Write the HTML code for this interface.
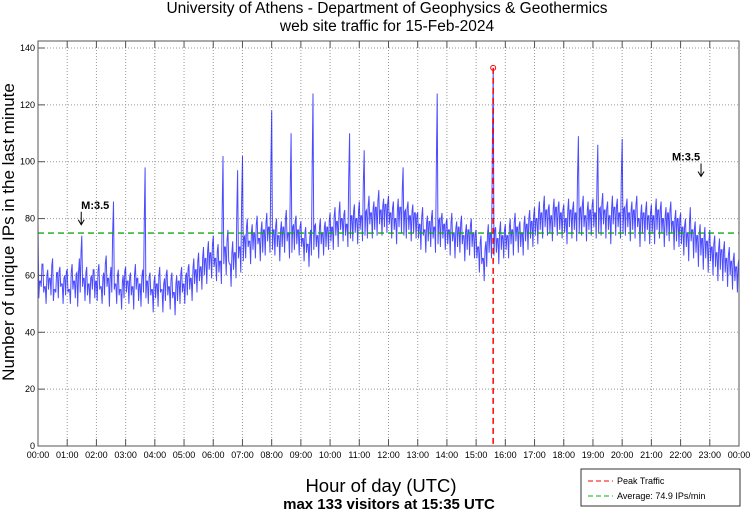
<!DOCTYPE html>
<html><head><meta charset="utf-8"><style>
body{margin:0;background:#fff;}
svg text{font-family:"Liberation Sans",sans-serif;}
</style></head><body>
<svg width="750" height="511" xmlns="http://www.w3.org/2000/svg" id="chart">
<text x="387" y="13" font-size="15.5" text-anchor="middle">University of Athens - Department of Geophysics &amp; Geothermics</text>
<text x="387" y="31" font-size="15.5" text-anchor="middle">web site traffic for 15-Feb-2024</text>
<text transform="translate(14,232) rotate(-90)" font-size="17" text-anchor="middle">Number of unique IPs in the last minute</text>
<text x="381" y="492" font-size="18.5" text-anchor="middle">Hour of day (UTC)</text>
<text x="389" y="509" font-size="15" font-weight="bold" text-anchor="middle">max 133 visitors at 15:35 UTC</text>
<g id="grid"></g>
<g id="series"></g>
<rect x="38" y="41" width="701" height="405" fill="none" stroke="#555" stroke-width="1"/>
<g id="axes"></g>
<g>
<rect x="581" y="469" width="159" height="37" fill="#fff" stroke="#333"/>
<line x1="588" y1="481" x2="613" y2="481" stroke="#f00" stroke-dasharray="5,3"/>
<text x="617" y="484" font-size="9">Peak Traffic</text>
<line x1="588" y1="496" x2="613" y2="496" stroke="#1a1" stroke-dasharray="5,3"/>
<text x="617" y="499" font-size="9">Average: 74.9 IPs/min</text>
</g>
</svg>
<script>
const hourLabels=["00:00","01:00","02:00","03:00","04:00","05:00","06:00","07:00","08:00","09:00","10:00","11:00","12:00","13:00","14:00","15:00","16:00","17:00","18:00","19:00","20:00","21:00","22:00","23:00","00:00"];
const yTicks=[0,20,40,60,80,100,120,140];
const visitors=[
78,58,64,56,62,59,66,55,61,63,57,60,
62,55,64,58,61,66,74,59,63,57,60,62,
58,64,56,61,67,59,63,86,57,62,55,60,
63,58,61,56,64,59,57,62,98,58,61,55,
60,57,63,55,59,62,56,61,54,60,58,63,
57,61,64,59,66,62,68,63,70,66,72,68,
74,66,71,65,102,70,76,64,72,68,97,70,
102,74,80,72,78,75,81,73,79,76,82,77,
118,76,80,74,79,77,83,75,110,78,81,76,
79,73,77,71,76,124,78,74,80,75,79,77,
82,77,84,79,86,80,83,78,110,81,85,80,
86,81,104,83,88,82,86,84,90,83,87,85,
88,82,86,80,87,84,98,83,86,81,85,82,
82,78,84,76,81,79,83,77,124,80,82,78,
80,76,82,75,79,77,81,74,78,76,80,75,
76,70,74,66,72,78,75,133,77,73,79,74,
78,74,80,76,82,77,79,75,81,78,83,79,
84,80,86,82,88,83,85,81,87,84,86,82,
85,80,87,83,86,82,109,84,88,81,86,83,
87,82,106,84,89,83,86,81,88,84,87,82,
108,84,87,82,86,83,88,80,85,82,86,81,
85,81,87,83,86,80,84,82,86,79,83,80,
82,77,80,75,84,76,79,74,78,73,77,72,
76,70,74,68,73,69,72,66,70,65,68,63,
66];
const visitorsLow=[
52,56,54,50,55,53,51,54,52,56,50,53,
54,50,55,52,49,54,56,51,53,50,55,52,
51,55,50,53,56,49,54,55,50,53,48,52,
54,50,53,48,55,51,49,54,52,50,53,47,
52,49,54,47,51,53,48,52,46,51,50,54,
50,53,55,51,57,54,58,55,60,57,62,59,
63,58,61,57,64,60,65,56,62,59,66,61,
65,66,70,64,69,66,71,65,68,67,72,68,
69,67,70,65,70,68,72,66,68,69,71,67,
70,65,68,63,67,69,70,66,71,67,70,69,
72,69,74,70,76,72,74,70,73,72,75,71,
76,72,74,73,78,73,76,74,78,74,77,75,
78,73,76,71,77,75,74,73,76,72,75,73,
73,69,74,68,72,70,73,68,71,70,73,69,
71,67,72,66,70,68,71,65,69,67,70,66,
66,61,64,58,63,68,66,67,68,64,69,66,
69,66,71,67,72,68,70,67,72,69,73,70,
74,71,76,73,77,74,75,72,77,74,76,73,
75,71,77,73,76,72,75,74,77,72,76,74,
77,73,75,74,78,73,76,71,78,74,77,73,
75,74,77,72,76,73,77,70,75,72,76,71,
75,71,76,73,75,70,74,72,75,69,72,70,
71,67,70,65,72,66,68,63,67,62,66,61,
65,60,63,58,62,58,61,56,60,55,58,54];
const averageValue=74.9;
const peakValue=133;
const peakHour=15+35/60;
const quakeHours=[1.48,22.7];
const quakeLevels=[75,92];
const quakeLabels=["M:3.5","M:3.5"];
const quakeLabelShift=[14,-15];

const NS="http://www.w3.org/2000/svg";
const X0=38,X1=739,Y0=446,YT=48;
const xs=h=>X0+(X1-X0)*h/24;
const ys=v=>Y0-(Y0-YT)*v/140;
function mk(tag,attrs,parent){const e=document.createElementNS(NS,tag);for(const k in attrs)e.setAttribute(k,attrs[k]);parent.appendChild(e);return e;}
const grid=document.getElementById('grid'),axes=document.getElementById('axes'),series=document.getElementById('series');
hourLabels.forEach((l,i)=>{
  const x=xs(i);
  if(i>0&&i<24){const g=mk('line',{x1:x,x2:x,y1:41,y2:Y0,stroke:'#999','stroke-dasharray':'1,2'},grid);
  
  }
  const t=mk('line',{x1:x,x2:x,y1:Y0,y2:Y0-7,stroke:'#555'},axes);
  
  
  const t2=mk('line',{x1:x,x2:x,y1:41,y2:48,stroke:'#555'},axes);
  
  
  const tx=mk('text',{x:x,y:458,'font-size':9,'text-anchor':'middle'},axes);tx.textContent=l;
  
  
});
yTicks.forEach(v=>{
  const y=ys(v);
  if(v>0){const g=mk('line',{x1:X0,x2:X1,y1:y,y2:y,stroke:'#999','stroke-dasharray':'1,2'},grid);
  
  }
  const t=mk('line',{x1:X0,x2:X0+7,y1:y,y2:y,stroke:'#555'},axes);
  
  
  const tx=mk('text',{x:35,y:y+3,'font-size':9,'text-anchor':'end'},axes);tx.textContent=v;
  
  
});
const n=visitors.length-1;
const step=24/n;
const pts=[];
visitors.forEach((v,i)=>{
  pts.push(xs(step*i).toFixed(1)+','+ys(v).toFixed(1));
  if(i<visitorsLow.length){
    const nx=visitors[i+1];
    pts.push(xs(step*(i+0.33)).toFixed(1)+','+ys(visitorsLow[i]).toFixed(1));
    pts.push(xs(step*(i+0.66)).toFixed(1)+','+ys(Math.min(nx,(nx+visitorsLow[i])/2+4)).toFixed(1));
  }
});
const pl=mk('polyline',{points:pts.join(' '),fill:'none',stroke:'#0000ff','stroke-width':1,'stroke-opacity':0.7},series);


const av=mk('line',{x1:X0,x2:X1,y1:ys(averageValue),y2:ys(averageValue),stroke:'#1a1','stroke-width':1.3,'stroke-dasharray':'6,4'},series);


const pk=mk('line',{x1:xs(peakHour),x2:xs(peakHour),y1:ys(peakValue),y2:Y0,stroke:'#f00','stroke-width':1.5,'stroke-dasharray':'6,4'},series);


const pc=mk('circle',{cx:xs(peakHour),cy:ys(peakValue),r:2.5,fill:'none',stroke:'#f00'},series);


quakeHours.forEach((h,i)=>{
  const x=xs(h),y=ys(quakeLevels[i]);
  const t=mk('text',{x:x+quakeLabelShift[i],y:y-24,'font-size':11,'font-weight':'bold','text-anchor':'middle'},series);t.textContent=quakeLabels[i];
  
  
  const a=mk('path',{d:`M${x},${y-21} L${x},${y-9} M${x-3},${y-13} L${x},${y-8} L${x+3},${y-13}`,fill:'none',stroke:'#000','stroke-width':1},series);
  
  
});
</script>
</body></html>
